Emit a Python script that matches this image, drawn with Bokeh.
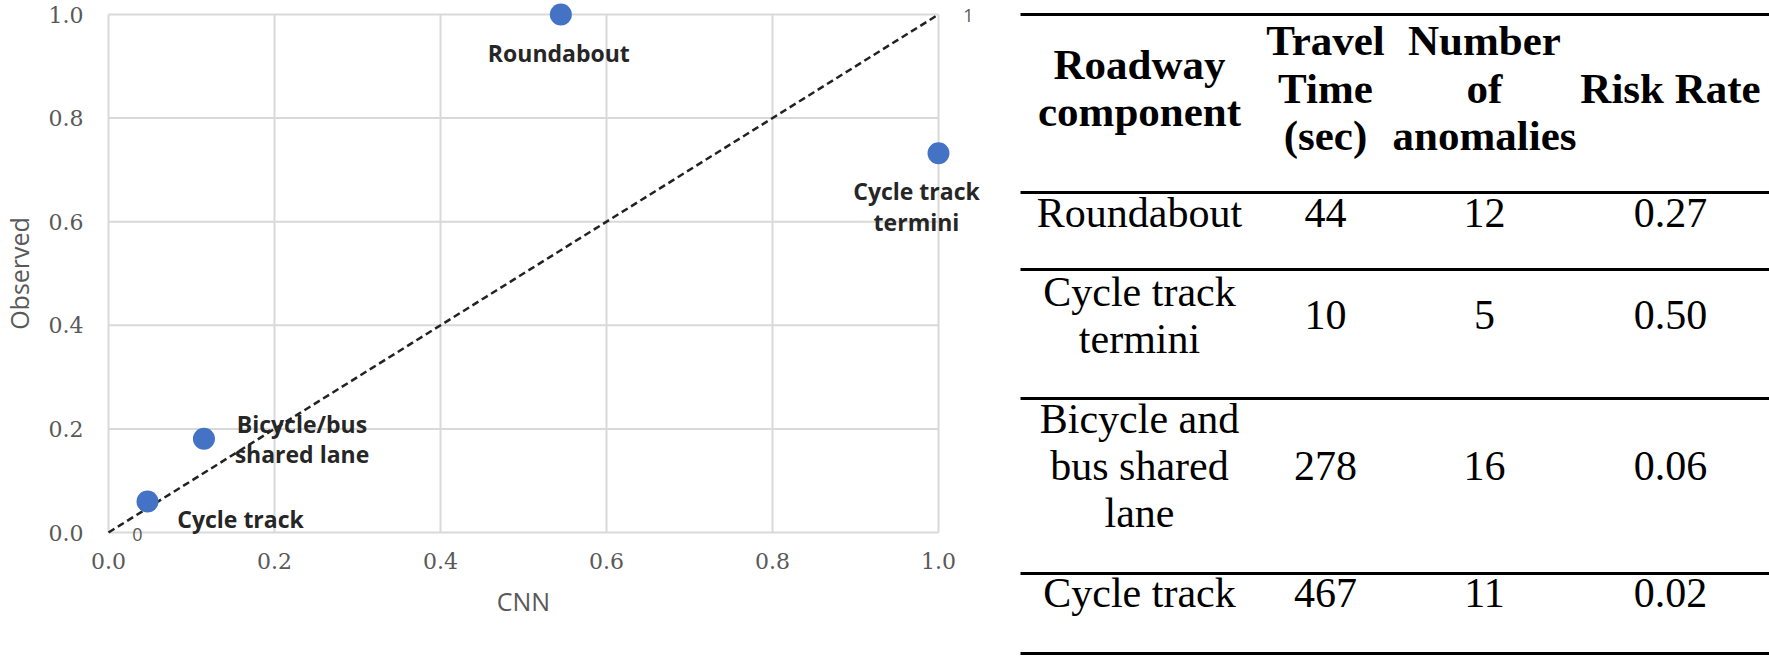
from bokeh.plotting import figure
from bokeh.models import Range1d, FixedTicker, ColumnDataSource, PrintfTickFormatter
from bokeh.layouts import row
from bokeh.embed import file_html
from bokeh.resources import INLINE
from bokeh.core.properties import value

# ---------------- data ----------------
point_labels = ["Roundabout", "Cycle track\ntermini", "Bicycle/bus\nshared lane", "Cycle track"]
cnn = [0.545, 1.0, 0.115, 0.047]
observed = [1.0, 0.732, 0.181, 0.06]

ref_line_x = [0, 1]
ref_line_y = [0, 1]
ref_line_labels = ["0", "1"]

tick_values = [0, 0.2, 0.4, 0.6, 0.8, 1.0]
tick_labels = ["0.0", "0.2", "0.4", "0.6", "0.8", "1.0"]

x_title = "CNN"
y_title = "Observed"

table_header = [["Roadway", "component"], ["Travel", "Time", "(sec)"],
                ["Number", "of", "anomalies"], ["Risk Rate"]]
table_component = [["Roundabout"], ["Cycle track", "termini"],
                   ["Bicycle and", "bus shared", "lane"], ["Cycle track"]]
travel_time = ["44", "10", "278", "467"]
n_anomalies = ["12", "5", "16", "11"]
risk_rate = ["0.27", "0.50", "0.06", "0.02"]

# ---------------- layout / style ----------------
W1, W2, H = 1018, 751, 658
label_dx = [-2, -22, 98, 93]
label_dy = [38, 53, 0, 18]
ref_dx = [29, 30]
ref_dy = [2, 1]

GRID = "#d9d9d9"
AXIS_TXT = "#595959"
BLUE = "#4472C4"

# ---------------- scatter chart ----------------
p = figure(width=W1, height=H,
           x_range=Range1d(-0.13012, 1.08675), y_range=Range1d(-0.24324, 1.02703),
           output_backend="svg", toolbar_location=None,
           min_border_left=0, min_border_right=8, min_border_top=0, min_border_bottom=0)
p.outline_line_color = None
p.xgrid.visible = False
p.ygrid.visible = False

lo, hi = tick_values[0], tick_values[-1]
n = len(tick_values)
# gridlines bounded to the 0..1 square
p.segment(x0=tick_values, x1=tick_values, y0=[lo] * n, y1=[hi] * n,
          line_color=GRID, line_width=2)
p.segment(x0=[lo] * n, x1=[hi] * n, y0=tick_values, y1=tick_values,
          line_color=GRID, line_width=2)

# 1:1 reference line
p.line(ref_line_x, ref_line_y, line_color="#222222", line_width=2.5, line_dash="7 4")

src = ColumnDataSource(dict(x=cnn, y=observed, label=point_labels, dx=label_dx, dy=label_dy))
p.scatter("x", "y", source=src, size=22, fill_color=BLUE, line_color=None)
p.text("x", "y", text="label", source=src, x_offset="dx", y_offset="dy",
       text_align="center", text_baseline="middle", text_font=value("Open Sans"),
       text_font_style="bold", text_font_size="23px", text_color="#262626",
       text_line_height=0.95)

rsrc = ColumnDataSource(dict(x=ref_line_x, y=ref_line_y, label=ref_line_labels, dx=ref_dx, dy=ref_dy))
p.text("x", "y", text="label", source=rsrc, x_offset="dx", y_offset="dy",
       text_align="center", text_baseline="middle", text_font=value("Open Sans"),
       text_font_size="18px", text_color=AXIS_TXT)

for ax in (p.xaxis[0], p.yaxis[0]):
    ax.ticker = FixedTicker(ticks=tick_values)
    ax.formatter = PrintfTickFormatter(format="%.1f")
    ax.major_label_overrides = dict(zip(tick_values, tick_labels))
    ax.bounds = (lo, hi)
    ax.fixed_location = 0
    ax.axis_line_color = None
    ax.major_tick_line_color = None
    ax.minor_tick_line_color = None
    ax.major_tick_out = 0
    ax.major_tick_in = 0
    ax.minor_tick_out = 0
    ax.minor_tick_in = 0
    ax.major_label_text_font = "DejaVu Serif"
    ax.major_label_text_font_size = "22px"
    ax.major_label_text_color = AXIS_TXT
    ax.axis_label_text_font = "Open Sans"
    ax.axis_label_text_font_size = "25px"
    ax.axis_label_text_font_style = "normal"
    ax.axis_label_text_color = AXIS_TXT

p.xaxis.axis_label = x_title
p.yaxis.axis_label = y_title
p.xaxis.major_label_standoff = 20
p.xaxis.axis_label_standoff = 12
p.yaxis.major_label_standoff = 25
p.yaxis.axis_label_standoff = 10

# ---------------- table ----------------
t = figure(width=W2, height=H, x_range=Range1d(W1, W1 + W2), y_range=Range1d(H, 0),
           output_backend="svg", toolbar_location=None, x_axis_type=None, y_axis_type=None,
           min_border=0)
t.outline_line_color = None
t.xgrid.visible = False
t.ygrid.visible = False

rule_y = [14, 192, 269, 398, 573, 653]
m = len(rule_y)
t.segment(x0=[1020] * m, x1=[W1 + W2] * m, y0=rule_y, y1=rule_y,
          line_color="black", line_width=3)

col_x = [1139, 1325, 1484, 1670]
header_mid = 87.5
row_mid = [212, 314.5, 465.5, 592]
h_step = 47.5
b_step = 47

hx, hy, ht = [], [], []
for cx, lines in zip(col_x, table_header):
    k = len(lines)
    for i, s in enumerate(lines):
        hx.append(cx)
        hy.append(header_mid + (i - (k - 1) / 2) * h_step)
        ht.append(s)

bx, by, bt = [], [], []
for r, lines in enumerate(table_component):
    k = len(lines)
    for i, s in enumerate(lines):
        bx.append(col_x[0])
        by.append(row_mid[r] + (i - (k - 1) / 2) * b_step)
        bt.append(s)
    for cx, col in zip(col_x[1:], (travel_time, n_anomalies, risk_rate)):
        bx.append(cx)
        by.append(row_mid[r])
        bt.append(col[r])

t.text(x=hx, y=hy, text=ht, text_align="center", text_baseline="middle",
       text_font=value("Liberation Serif"), text_font_style="bold", text_font_size="43px",
       text_color="black")
t.text(x=bx, y=by, text=bt, text_align="center", text_baseline="middle",
       text_font=value("Liberation Serif"), text_font_size="42px", text_color="black")

layout = row(p, t)
open("out.html", "w").write(file_html(layout, INLINE))
